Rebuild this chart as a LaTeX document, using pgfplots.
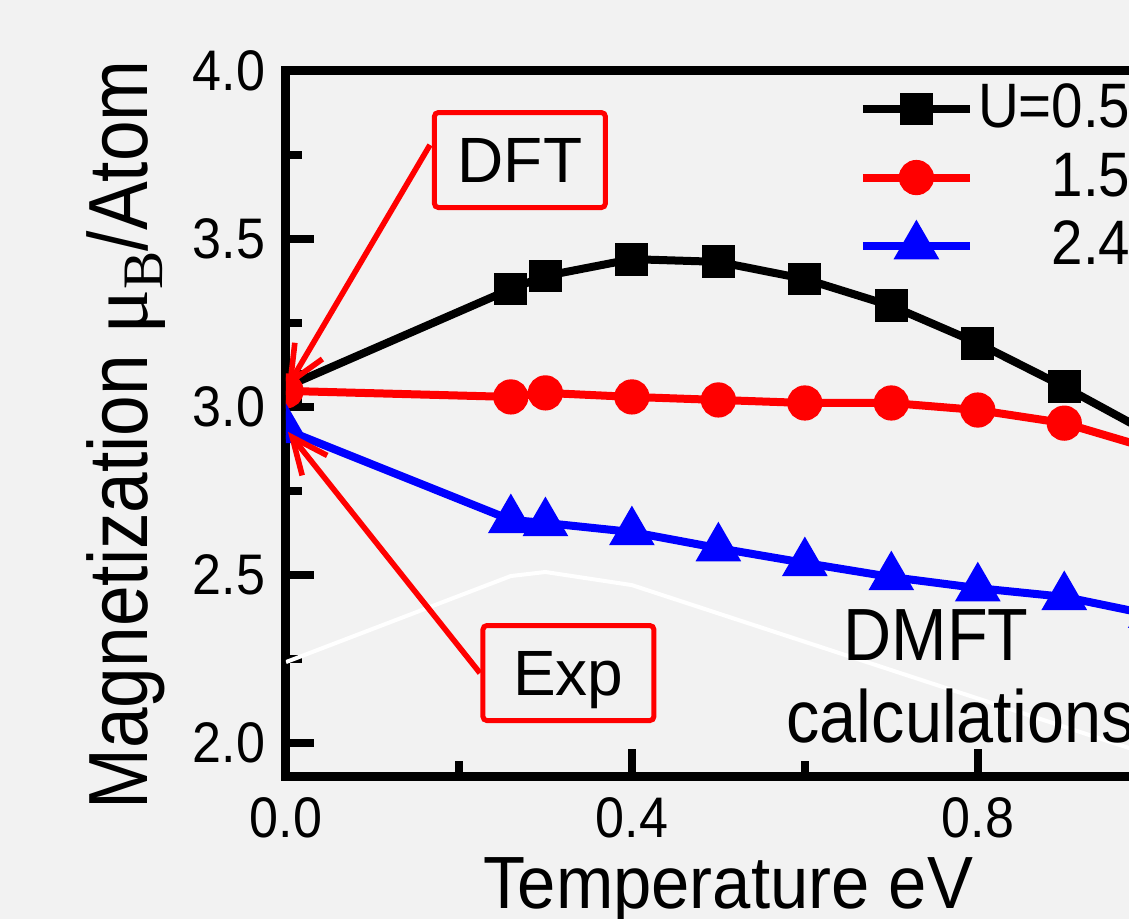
\documentclass[border=0pt]{standalone}
\usepackage{fontspec}
\setmainfont{Liberation Sans}
\newfontfamily\tickfam{Liberation Sans}[FakeStretch=0.91]
\newfontfamily\labfam{Liberation Sans}[FakeStretch=0.93]
\newfontfamily\ylabfam{Liberation Sans}[FakeStretch=0.87]
\newfontfamily\legfam{Liberation Sans}[FakeStretch=0.9]
\newfontfamily\serfam{Liberation Serif}
\usepackage{graphicx}
\usepackage{pgfplots}
\pgfplotsset{compat=1.18}
\usetikzlibrary{arrows.meta}
\definecolor{bg}{RGB}{242,242,242}
\definecolor{pblue}{RGB}{0,0,255}
\definecolor{pred}{RGB}{255,0,0}

\begin{document}
\begin{tikzpicture}
\path[use as bounding box, fill=bg] (-71.5pt,-35.5pt) rectangle (210.75pt,194.25pt);
\clip (-71.5pt,-35.5pt) rectangle (210.75pt,194.25pt);
\begin{axis}[
  at={(0pt,0pt)}, anchor=south west,
  scale only axis, width=227pt, height=176.5pt,
  xmin=0, xmax=1.05, ymin=1.899, ymax=4.0,
  axis line style={line width=2.25pt, black},
  tick pos=left, tick align=inside,
  xtick={0,0.4,0.8}, minor xtick={0.2,0.6,1.0},
  ytick={2,2.5,3,3.5,4}, minor ytick={2.25,2.75,3.25,3.75},
  major tick length=7pt, minor tick length=4pt,
  every tick/.append style={line width=2pt, black},
  /pgf/number format/.cd, fixed, fixed zerofill, precision=1, assume math mode=true,
  /pgfplots/.cd,
  xticklabel style={font=\tickfam\fontsize{14.3pt}{14.3pt}\selectfont, yshift=-1.7pt},
  yticklabel style={font=\tickfam\fontsize{14.3pt}{14.3pt}\selectfont, xshift=-1.7pt},
  every axis x label/.style={at={(axis description cs:0.487,-0.1856)}, anchor=base,
     font=\labfam\fontsize{18.5pt}{18.5pt}\selectfont},
  every axis y label/.style={at={(axis description cs:-0.152,0.4844)}, rotate=90, anchor=base,
     font=\ylabfam\fontsize{21pt}{21pt}\selectfont},
  xlabel={Temperature eV},
  ylabel={Magnetization {\serfam μ}\raisebox{-3.75pt}{\fontsize{14.3pt}{14.3pt}\selectfont\serfam B}/Atom},
  clip marker paths=true,
  legend style={draw=none, fill=none, at={(axis cs:0.6624,3.961)}, anchor=north west,
     inner sep=0pt, outer sep=0pt, row sep=4.75pt, column sep=1pt,
     font=\legfam\fontsize{15.7pt}{15.7pt}\selectfont, nodes={inner sep=0pt}},
  legend cell align=right,
  legend image code/.code={\draw[mark repeat=2, mark phase=2] plot coordinates {(0pt,0pt) (13.4pt,0pt) (26.8pt,0pt)};},
]
\addplot[white, line width=1pt, forget plot] coordinates {
 (0,2.241) (0.26,2.497) (0.3,2.509) (0.4,2.47) (1.0,1.964)};
\addplot[black, line width=2pt, mark=square*, mark size=3.1pt] coordinates {
 (0,3.060) (0.26,3.351) (0.3,3.390) (0.4,3.440) (0.5,3.432) (0.6,3.381) (0.7,3.301) (0.8,3.190) (0.9,3.060) (1.0,2.92)};
\addplot[pred, line width=2pt, mark=*, mark size=3.4pt] coordinates {
 (0,3.048) (0.26,3.030) (0.3,3.042) (0.4,3.030) (0.5,3.021) (0.6,3.012) (0.7,3.012) (0.8,2.991) (0.9,2.952) (1.0,2.876)};
\addplot[pblue, line width=2pt, mark=triangle*, mark size=4.6pt] coordinates {
 (0,2.932) (0.26,2.664) (0.3,2.655) (0.4,2.628) (0.5,2.580) (0.6,2.536) (0.7,2.494) (0.8,2.461) (0.9,2.435) (1.0,2.382)};
\legend{U=0.5, 1.5, 2.4}
\draw[pred, line width=1.4pt, -{Straight Barb[length=9pt,width=8pt]}] (axis cs:0.1665,3.78) -- (axis cs:0.001,3.057);
\draw[pred, line width=1.4pt, -{Straight Barb[length=9pt,width=8pt]}] (axis cs:0.2243,2.2083) -- (axis cs:0.0023,2.926);
\node[draw=pred, line width=1.25pt, rounded corners=1pt, minimum width=42.75pt, minimum height=23.75pt, inner sep=0pt, font=\fontsize{16pt}{16pt}\selectfont] at (axis cs:0.2705,3.735) {DFT};
\node[draw=pred, line width=1.25pt, rounded corners=1pt, minimum width=42.75pt, minimum height=23.75pt, inner sep=0pt, text depth=0pt, font=\fontsize{16pt}{16pt}\selectfont] at (axis cs:0.3266,2.2083) {Exp};
\node[anchor=base west, inner sep=0pt, font=\legfam\fontsize{18.5pt}{18.5pt}\selectfont] at (axis cs:0.644,2.247) {DMFT};
\node[anchor=base west, inner sep=0pt, font=\legfam\fontsize{18.5pt}{18.5pt}\selectfont] at (axis cs:0.578,2.003) {calculations};
\end{axis}
\end{tikzpicture}
\end{document}
